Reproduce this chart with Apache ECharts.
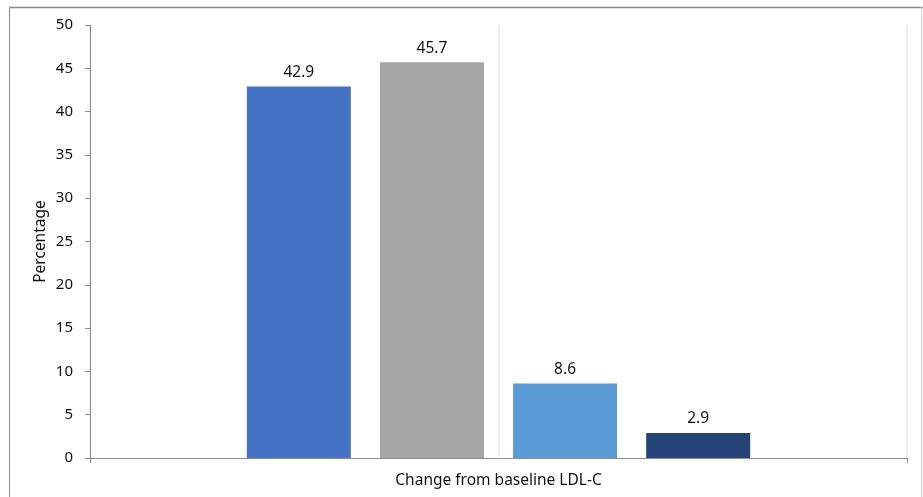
<!DOCTYPE html>
<html>
<head>
<meta charset="utf-8">
<script src="https://cdn.jsdelivr.net/npm/echarts@6/dist/echarts.min.js"></script>
<style>
  html, body { margin: 0; padding: 0; background: #fff; }
  #chart { width: 923px; height: 497px; }
</style>
</head>
<body>
<div id="chart"></div>
<script>
// data
const categories = ['Change from baseline LDL-C']
const seriesNames = ['Group 1', 'Group 2', 'Group 3', 'Group 4']
const seriesValues = [[42.9], [45.7], [8.6], [2.9]]
const seriesColors = ['#4472C4', '#A5A5A5', '#5B9BD5', '#264478']
const yTicks = { min: 0, max: 50, interval: 5 }

const font = '"Noto Sans", "Open Sans", sans-serif'
const chart = echarts.init(document.getElementById('chart'))

const series = seriesNames.map((name, i) => ({
  name: name,
  type: 'bar',
  data: seriesValues[i],
  barWidth: 104,
  barGap: '28%',
  itemStyle: { color: seriesColors[i] },
  label: {
    show: true,
    position: 'top',
    distance: 6,
    color: '#111',
    fontSize: 15.5,
    fontFamily: font
  }
}))

chart.setOption({
  backgroundColor: '#fff',
  animation: false,
  grid: { left: 90, right: 16, top: 25, bottom: 39 },
  xAxis: [
    {
      type: 'category',
      data: categories,
      axisLine: { lineStyle: { color: '#8c8c8c', width: 1 } },
      axisTick: { show: true, length: 5, lineStyle: { color: '#8c8c8c' } },
      axisLabel: { color: '#111', fontSize: 15.5, fontFamily: font, margin: 15 },
      splitLine: { show: false }
    },
    {
      // only used to draw the faint vertical gridlines
      type: 'value',
      min: 0, max: 2, interval: 1,
      position: 'top',
      axisLine: { show: false },
      axisTick: { show: false },
      axisLabel: { show: false },
      splitLine: { show: true, lineStyle: { color: '#ebebeb', width: 1.5 } }
    }
  ],
  yAxis: {
    type: 'value',
    min: yTicks.min,
    max: yTicks.max,
    interval: yTicks.interval,
    name: 'Percentage',
    nameLocation: 'middle',
    nameGap: 41,
    nameMoveOverlap: false,
    nameTextStyle: { color: '#111', fontSize: 15.5, fontFamily: font },
    axisLine: { show: true, lineStyle: { color: '#8c8c8c', width: 1 } },
    axisTick: { show: true, length: 5, lineStyle: { color: '#8c8c8c' } },
    axisLabel: { color: '#111', fontSize: 15, fontFamily: font, margin: 17 },
    splitLine: { show: false }
  },
  graphic: [
    { type: 'line', shape: { x1: 9, y1: 7.5, x2: 923, y2: 7.5 }, style: { stroke: '#8a8a8a', lineWidth: 1.5 } },
    { type: 'line', shape: { x1: 9.5, y1: 7, x2: 9.5, y2: 497 }, style: { stroke: '#8a8a8a', lineWidth: 1 } },
    { type: 'line', shape: { x1: 921.5, y1: 7, x2: 921.5, y2: 497 }, style: { stroke: '#d4d4d4', lineWidth: 1 } }
  ],
  series: series
})
</script>
</body>
</html>
